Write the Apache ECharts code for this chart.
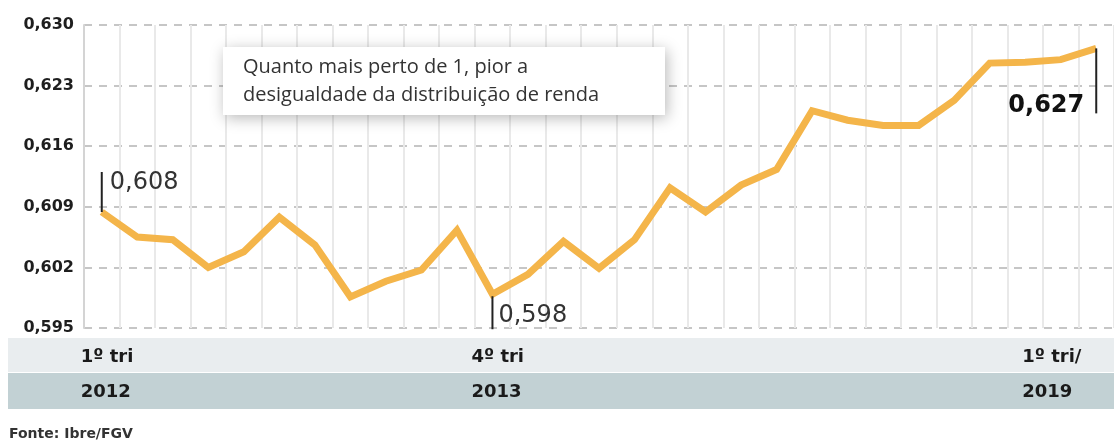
<!DOCTYPE html>
<html>
<head>
<meta charset="utf-8">
<script src="https://cdn.jsdelivr.net/npm/echarts@6/dist/echarts.min.js"></script>
<style>
html,body{margin:0;padding:0;background:#fff;}
#chart{width:1114px;height:443px;}
</style>
</head>
<body>
<div id="chart"></div>
<script>
// ---- data ----
const quarters = [
  '1º tri 2012','2º tri 2012','3º tri 2012','4º tri 2012',
  '1º tri 2013','2º tri 2013','3º tri 2013','4º tri 2013',
  '1º tri 2014','2º tri 2014','3º tri 2014','4º tri 2014',
  '1º tri 2015','2º tri 2015','3º tri 2015','4º tri 2015',
  '1º tri 2016','2º tri 2016','3º tri 2016','4º tri 2016',
  '1º tri 2017','2º tri 2017','3º tri 2017','4º tri 2017',
  '1º tri 2018','2º tri 2018','3º tri 2018','4º tri 2018',
  '1º tri 2019'
];
const gini = [
  0.6084, 0.6055, 0.6052, 0.6020, 0.6038, 0.6078, 0.6046, 0.5986,
  0.6004, 0.6017, 0.6063, 0.5989, 0.6012, 0.6050, 0.6019, 0.6052,
  0.6112, 0.6084, 0.6115, 0.6133, 0.6201, 0.6190, 0.6184, 0.6184,
  0.6213, 0.6256, 0.6257, 0.6260, 0.6273
];
const yMin = 0.595, yMax = 0.630, yStep = 0.007;
const callouts = [
  {index: 0, text: '0,608'},
  {index: 11, text: '0,598'},
  {index: 28, text: '0,627'}
];
const xTickLabels = [
  {index: 0, quarter: '1º tri', year: '2012'},
  {index: 11, quarter: '4º tri', year: '2013'},
  {index: 28, quarter: '1º tri/', year: '2019'}
];
const noteLines = ['Quanto mais perto de 1, pior a', 'desigualdade da distribuição de renda'];
const source = 'Fonte: Ibre/FGV';

// ---- chart ----
const chart = echarts.init(document.getElementById('chart'), null, {renderer: 'canvas'});
const option = {
  animation: false,
  backgroundColor: '#ffffff',
  grid: {left: 84, right: -4, top: 25, bottom: 115, containLabel: false},
  xAxis: {
    type: 'category',
    data: quarters,
    boundaryGap: true,
    axisLine: {show: false},
    axisTick: {show: false, interval: 0},
    axisLabel: {show: false, interval: 0},
    splitLine: {show: true, interval: 0, lineStyle: {color: '#e9e9e9', width: 2}}
  },
  yAxis: {
    type: 'value',
    min: yMin, max: yMax, interval: yStep,
    axisLine: {show: true, lineStyle: {color: '#d4d4d4', width: 2}},
    axisTick: {show: false},
    axisLabel: {
      margin: 10,
      color: '#1e1e1e',
      fontFamily: 'DejaVu Sans',
      fontWeight: 'bold',
      fontSize: 16,
      formatter: v => v.toFixed(3).replace('.', ',')
    },
    splitLine: {show: true, lineStyle: {color: '#b4b4b4', width: 1.5, type: [8, 7]}}
  },
  series: [{
    type: 'line',
    data: gini,
    symbol: 'none',
    lineStyle: {color: '#f4b54a', width: 7, join: 'miter', cap: 'butt'},
    z: 3
  }]
};
chart.setOption(option);

function px(i, v) { return chart.convertToPixel({seriesIndex: 0}, [i, v]); }

const g = [];
// bottom bands
g.push({type: 'rect', shape: {x: 8, y: 338, width: 1106, height: 34}, style: {fill: '#e9edef'}, z: 1});
g.push({type: 'rect', shape: {x: 8, y: 373, width: 1106, height: 36}, style: {fill: '#c2d1d4'}, z: 1});
// x tick labels
xTickLabels.forEach(t => {
  const p = px(t.index, yMin);
  let x = p[0] - 21;
  if (t.index === xTickLabels[xTickLabels.length - 1].index) x = p[0] - 74;
  g.push({type: 'text', x: x, y: 357, style: {text: t.quarter, fill: '#1a1a1a', font: 'bold 18px "DejaVu Sans"', textAlign: 'left', textVerticalAlign: 'middle'}, z: 5});
  g.push({type: 'text', x: x, y: 392, style: {text: t.year, fill: '#1a1a1a', font: 'bold 18px "DejaVu Sans"', textAlign: 'left', textVerticalAlign: 'middle'}, z: 5});
});
// note box
g.push({type: 'rect', shape: {x: 223, y: 47, width: 442, height: 68}, style: {fill: '#ffffff', shadowBlur: 14, shadowColor: 'rgba(0,0,0,0.28)', shadowOffsetX: 2, shadowOffsetY: 3}, z: 10});
noteLines.forEach((t, k) => {
  g.push({type: 'text', x: 243, y: 67 + k * 28, style: {text: t, fill: '#333333', font: '20px "Open Sans"', textAlign: 'left', textVerticalAlign: 'middle'}, z: 11});
});
// callouts
callouts.forEach(c => {
  const p = px(c.index, gini[c.index]);
  if (c.index === 0) {
    g.push({type: 'line', shape: {x1: p[0], y1: p[1], x2: p[0], y2: p[1] - 40}, style: {stroke: '#222', lineWidth: 2}, z: 6});
    g.push({type: 'text', x: p[0] + 8, y: p[1] - 29, style: {text: c.text, fill: '#333', font: '24px "DejaVu Sans"', textAlign: 'left', textVerticalAlign: 'middle'}, z: 6});
  } else if (c.index === 11) {
    g.push({type: 'line', shape: {x1: p[0], y1: p[1] + 2, x2: p[0], y2: p[1] + 35}, style: {stroke: '#222', lineWidth: 2}, z: 6});
    g.push({type: 'text', x: p[0] + 6, y: p[1] + 22, style: {text: c.text, fill: '#333', font: '24px "DejaVu Sans"', textAlign: 'left', textVerticalAlign: 'middle'}, z: 6});
  } else {
    g.push({type: 'line', shape: {x1: p[0], y1: p[1], x2: p[0], y2: p[1] + 65}, style: {stroke: '#222', lineWidth: 2}, z: 6});
    g.push({type: 'text', x: p[0] - 12, y: p[1] + 57, style: {text: c.text, fill: '#111', font: 'bold 24px "DejaVu Sans"', textAlign: 'right', textVerticalAlign: 'middle'}, z: 6});
  }
});
// source
g.push({type: 'text', x: 9, y: 434, style: {text: source, fill: '#333', font: 'bold 14px "DejaVu Sans"', textAlign: 'left', textVerticalAlign: 'middle'}, z: 5});

chart.setOption({graphic: {elements: g}});
</script>
</body>
</html>
